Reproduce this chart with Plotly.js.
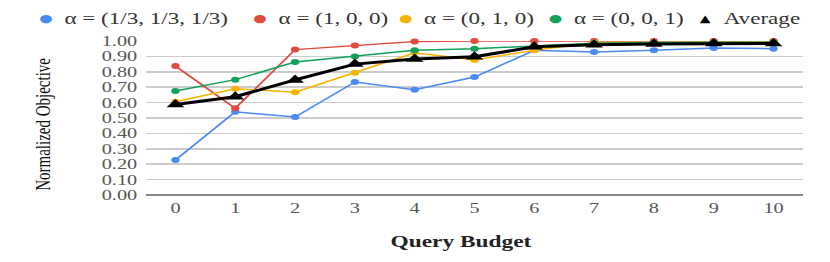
<!DOCTYPE html>
<html><head><meta charset="utf-8">
<script src="https://cdn.plot.ly/plotly-3.0.1.min.js"></script>
<style>
html,body{margin:0;padding:0;background:#fff;overflow:hidden}
#c{width:593px;height:262px;transform:scaleX(1.3997);transform-origin:0 0}
</style>
</head><body><div id="c"></div>
<script>
const budgets = [0,1,2,3,4,5,6,7,8,9,10];
const seriesNames = ["α = (1/3, 1/3, 1/3)", "α = (1, 0, 0)", "α = (0, 1, 0)", "α = (0, 0, 1)", "Average"];
const uniform  = [0.227,0.540,0.506,0.734,0.683,0.766,0.940,0.928,0.940,0.954,0.950];
const first    = [0.837,0.563,0.944,0.970,0.996,1.000,1.000,1.000,1.000,1.000,1.000];
const second   = [0.606,0.690,0.667,0.794,0.924,0.877,0.940,0.990,0.990,0.992,0.992];
const third    = [0.675,0.749,0.864,0.900,0.940,0.950,0.968,0.985,0.990,0.992,0.992];
const average  = [0.587,0.638,0.747,0.850,0.883,0.898,0.962,0.976,0.980,0.984,0.984];
const yTicks = [0,0.1,0.2,0.3,0.4,0.5,0.6,0.7,0.8,0.9,1.0];

const colors = ["#4a8af4","#e04a3f","#f6b400","#12a05a","#000000"];
const vals = [uniform, first, second, third, average];
const serif = "Liberation Serif, Times New Roman, serif";

const traces = [];
vals.forEach((v,i)=>{
  const avg = i===4;
  traces.push({
    x: budgets, y: v, type:'scatter', mode:'lines+markers', name: seriesNames[i], showlegend:false,
    cliponaxis:false,
    line:{color:colors[i], width: avg?3:1.5},
    marker:{color:colors[i], size: avg?11:6, symbol: avg?'triangle-up':'circle'}
  });
});

// hand-placed legend (unscaled px positions of each symbol, left edge of page)
const plotL = 104, plotW = 470;
const legendDotPx = [33, 186, 290, 397, 503.6];
const annotations = [];
seriesNames.forEach((nm,i)=>{
  const avg = i===4;
  annotations.push({
    text: avg ? '▲' : '●', xref:'paper', yref:'paper',
    x:(legendDotPx[i]-plotL)/plotW, y:1.143, xanchor:'center', yanchor:'middle',
    showarrow:false, font:{family:'DejaVu Sans', size: avg?10:11, color:colors[i]}
  });
  annotations.push({
    text: nm, xref:'paper', yref:'paper',
    x:(legendDotPx[i]+11-plotL)/plotW, y:1.143, xanchor:'left', yanchor:'middle',
    showarrow:false, font:{family:serif, size:16.5, color:'#333'}
  });
});
annotations.push({
  text:'<b>Query Budget</b>', xref:'paper', yref:'paper', x:0.479, y:-0.30,
  xanchor:'center', yanchor:'middle', showarrow:false,
  font:{family:serif, size:16.7, color:'#222'}
});
annotations.push({
  text:'Normalized Objective', xref:'paper', yref:'paper',
  x:(31.4-plotL)/plotW, y:0.458, textangle:-90, xanchor:'center', yanchor:'middle',
  showarrow:false, font:{family:serif, size:15, color:'#111'}
});

const layout = {
  width:593, height:262,
  margin:{l:104, r:19, t:41, b:67},
  paper_bgcolor:'#fff', plot_bgcolor:'#fff',
  font:{family:serif, color:'#444', size:13},
  showlegend:false,
  xaxis:{
    type:'linear', range:[-0.5,10.5], tickvals:budgets, ticktext:budgets.map(String),
    showgrid:false, zeroline:false, showline:false, ticks:'', ticklabelstandoff:3,
    tickfont:{family:serif, size:14.5, color:'#555'}
  },
  yaxis:{
    range:[0,1], tickvals:yTicks, ticktext:yTicks.map(t=>t.toFixed(2)),
    showgrid:true, gridcolor:'#cccccc', gridwidth:1.5,
    zeroline:true, zerolinecolor:'#888', zerolinewidth:1.5,
    showline:false, ticks:'', ticklen:0, ticklabelstandoff:5,
    tickfont:{family:serif, size:14.5, color:'#555'}
  },
  annotations: annotations
};
Plotly.newPlot('c', traces, layout, {staticPlot:true, displayModeBar:false});
</script></body></html>
